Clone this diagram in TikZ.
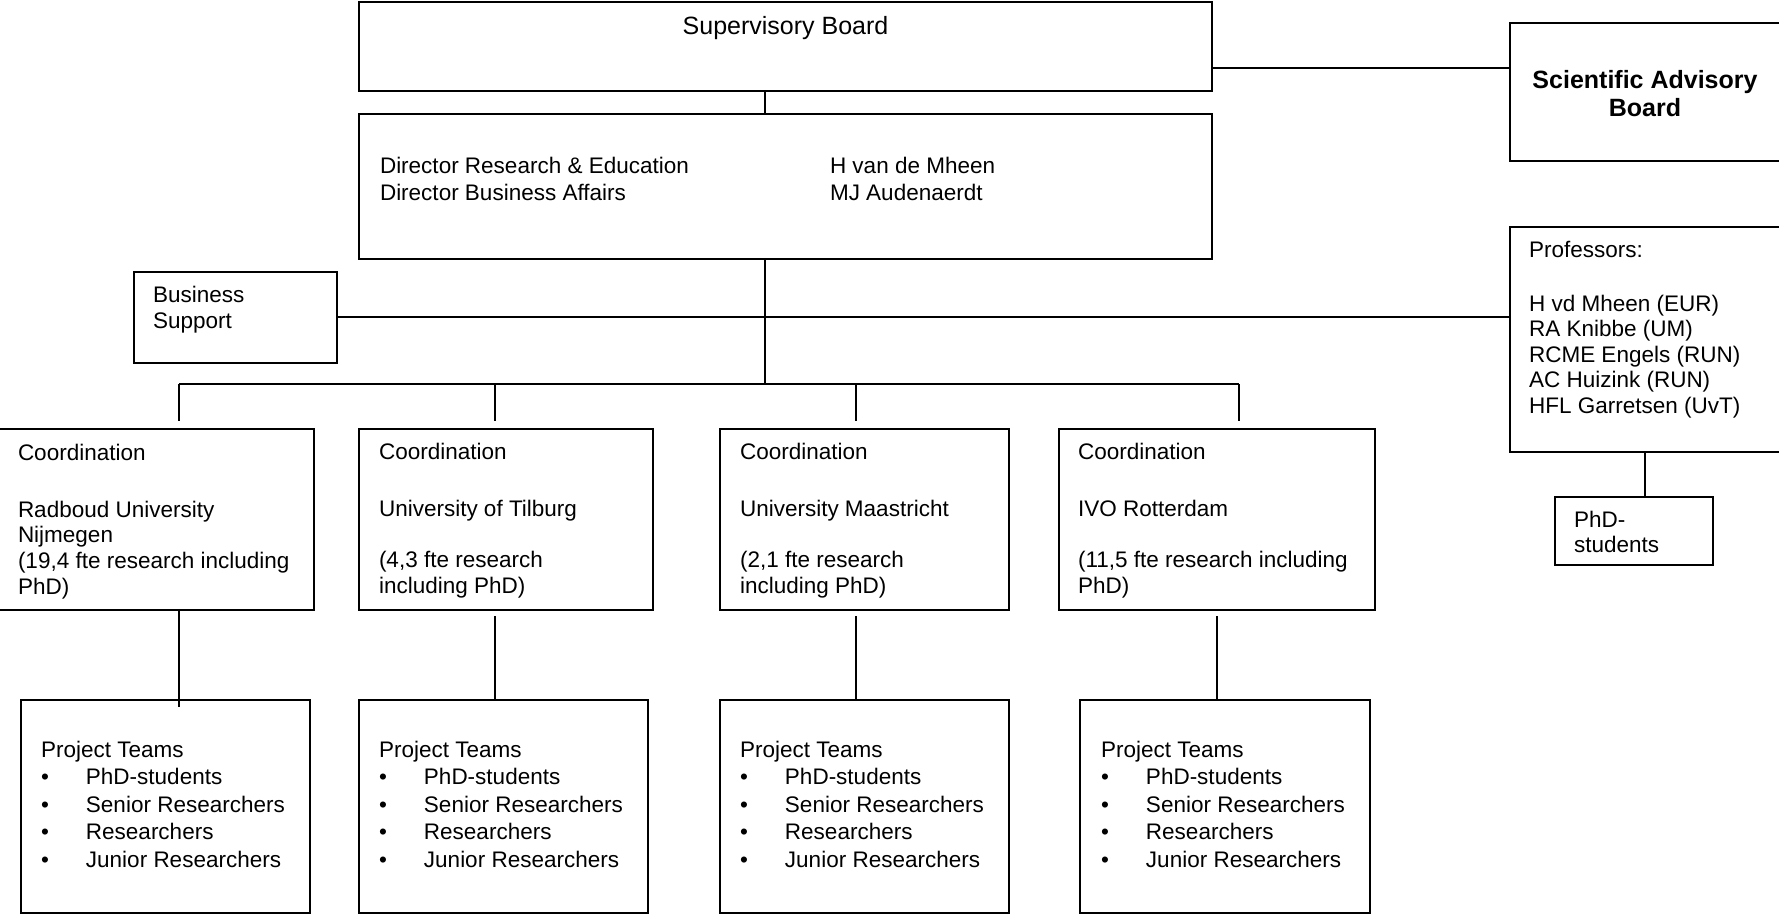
\documentclass[tikz,border=0pt]{standalone}
\usepackage{fontspec}
\setmainfont{Liberation Sans}
\newcommand{\mylines}[2]{{\fontsize{22.5pt}{#1}\selectfont\begin{tabular}[t]{@{}l@{}}#2\end{tabular}}}
\newcommand{\mybul}{\makebox[45pt][l]{\textbullet}}
\newcommand{\myteam}{\mylines{27.5pt}{Project Teams\\ \mybul PhD-students\\ \mybul Senior Researchers\\ \mybul Researchers\\ \mybul Junior Researchers}}
\begin{document}
\begin{tikzpicture}[x=1pt,y=-1pt,
  box/.style={draw=black, line width=1.9pt, inner sep=0pt, outer sep=0pt, anchor=north west},
  conn/.style={draw=black, line width=1.7pt},
  txt/.style={anchor=base west, inner sep=0pt, outer sep=0pt, text=black},
  ctxt/.style={anchor=base, inner sep=0pt, outer sep=0pt, text=black}]
\useasboundingbox (0,0) rectangle (1779,915);
\fill[white] (0,0) rectangle (1779,915);

% boxes
\node[box, minimum width=853pt, minimum height=89pt]  (sb)  at (359,2) {};
\node[box, minimum width=853pt, minimum height=145pt] (dir) at (359,114) {};
\node[box, minimum width=203pt, minimum height=91pt]  (bs)  at (134,272) {};
\node[box, minimum width=280pt, minimum height=138pt] (sab) at (1510,23) {};
\node[box, minimum width=280pt, minimum height=225pt] (prof) at (1510,227) {};
\node[box, minimum width=158pt, minimum height=68pt]  (phd) at (1555,497) {};
\node[box, minimum width=319pt, minimum height=181pt] (c1) at (-5,429) {};
\node[box, minimum width=294pt, minimum height=181pt] (c2) at (359,429) {};
\node[box, minimum width=289pt, minimum height=181pt] (c3) at (720,429) {};
\node[box, minimum width=316pt, minimum height=181pt] (c4) at (1059,429) {};
\node[box, minimum width=289pt, minimum height=213pt] (p1) at (21,700) {};
\node[box, minimum width=289pt, minimum height=213pt] (p2) at (359,700) {};
\node[box, minimum width=289pt, minimum height=213pt] (p3) at (720,700) {};
\node[box, minimum width=290pt, minimum height=213pt] (p4) at (1080,700) {};

% texts
\node[ctxt] (sbt) at (785.5,35) {\fontsize{25pt}{28pt}\selectfont Supervisory Board};
\node[txt] (dirl) at (380,173) {\mylines{27pt}{Director Research \& Education\\ Director Business Affairs}};
\node[txt] (dirr) at (830,173) {\mylines{27pt}{H van de Mheen\\ MJ Audenaerdt}};
\node[txt] (bst) at (153,302) {\mylines{26pt}{Business\\ Support}};
\node[ctxt] (sabt) at (1645,89) {\fontsize{25pt}{28pt}\selectfont\bfseries\begin{tabular}[t]{@{}c@{}}Scientific Advisory\\ Board\end{tabular}};
\node[txt] (proft) at (1529,257) {\mylines{25.5pt}{Professors:\\[28.5pt] H vd Mheen (EUR)\\ RA Knibbe (UM)\\ RCME Engels (RUN)\\ AC Huizink (RUN)\\ HFL Garretsen (UvT)}};
\node[txt] (phdt) at (1574,527) {\mylines{25pt}{PhD-\\ students}};
\node[txt] (c1t) at (18,460) {\mylines{25.7pt}{Coordination\\[31.3pt] Radboud University\\ Nijmegen\\ (19,4 fte research including\\ PhD)}};
\node[txt] (c2t) at (379,459) {\mylines{25.5pt}{Coordination\\[32pt] University of Tilburg\\[25.5pt] (4,3 fte research\\ including PhD)}};
\node[txt] (c3t) at (740,459) {\mylines{25.5pt}{Coordination\\[32pt] University Maastricht\\[25.5pt] (2,1 fte research\\ including PhD)}};
\node[txt] (c4t) at (1078,459) {\mylines{25.5pt}{Coordination\\[32pt] IVO Rotterdam\\[25.5pt] (11,5 fte research including\\ PhD)}};
\node[txt] (p1t) at (41,757) {\myteam};
\node[txt] (p2t) at (379,757) {\myteam};
\node[txt] (p3t) at (740,757) {\myteam};
\node[txt] (p4t) at (1101,757) {\myteam};

% junction coordinates
\coordinate (bus) at (765,384);
\coordinate (sabl) at (0,68);
\coordinate (bsl) at (0,317);
\coordinate (d1) at (179,421);
\coordinate (d2) at (495,421);
\coordinate (d3) at (856,421);
\coordinate (d4) at (1239,421);
\coordinate (e1) at (179,707);
\coordinate (f2) at (495,616);
\coordinate (f3) at (856,616);
\coordinate (f4) at (1217,616);
\coordinate (k) at (1645,0);

% connectors
\draw[conn] (sb.south -| bus) -- (dir.north -| bus);
\draw[conn] (dir.south -| bus) -- (bus);
\draw[conn] (sb.east |- sabl) -- (sab.west |- sabl);
\draw[conn] (bs.east |- bsl) -- (prof.west |- bsl);
\draw[conn] (d1 |- bus) -- (d4 |- bus);
\draw[conn] (d1 |- bus) -- (d1);
\draw[conn] (d2 |- bus) -- (d2);
\draw[conn] (d3 |- bus) -- (d3);
\draw[conn] (d4 |- bus) -- (d4);
\draw[conn] (c1.south -| e1) -- (e1);
\draw[conn] (f2) -- (p2.north -| f2);
\draw[conn] (f3) -- (p3.north -| f3);
\draw[conn] (f4) -- (p4.north -| f4);
\draw[conn] (prof.south -| k) -- (phd.north -| k);
\end{tikzpicture}
\end{document}
